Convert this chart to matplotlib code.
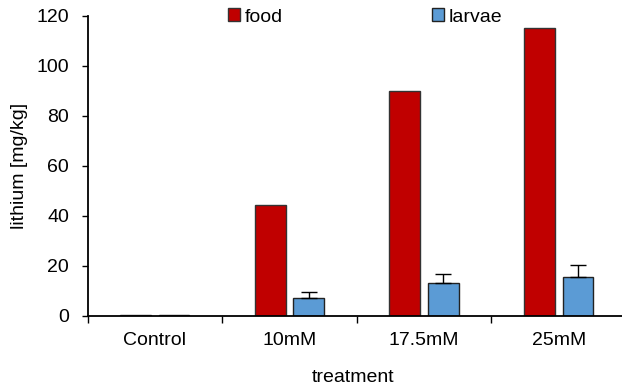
import numpy as np
import matplotlib
matplotlib.use("Agg")
import matplotlib.pyplot as plt
from matplotlib.ticker import FixedLocator, NullFormatter

plt.rcParams['font.family'] = ['Liberation Sans', 'DejaVu Sans']

treatments = ['Control', '10mM', '17.5mM', '25mM']
food = [0.2, 44.4, 90.0, 115.0]
larvae = [0.1, 7.0, 13.2, 15.4]
larvae_err = [0.0, 2.6, 3.5, 4.9]

food_color = '#C00000'
larvae_color = '#5B9BD5'
fs = 14

fig = plt.figure(figsize=(6.22, 3.89), dpi=100)
ax = fig.add_axes([87.5 / 622, 1 - 315.7 / 389, (626 - 87.5) / 622, (315.7 - 15.7) / 389])

x = np.arange(len(treatments))
w = 0.228
off = 0.143
ax.bar(x - off, food, w, color=food_color, edgecolor='#333333', linewidth=1, label='food')
ax.bar(x + off, larvae, w, color=larvae_color, edgecolor='#222222', linewidth=1, label='larvae')
# Excel-style: only the upper half of the error bar
ax.errorbar(x[1:] + off, larvae[1:], yerr=[np.zeros(3), larvae_err[1:]], fmt='none',
            ecolor='black', elinewidth=1, capsize=5.5, capthick=1)

ax.set_xlim(-0.5, 3.5)
ax.set_ylim(0, 120)
ax.set_yticks(range(0, 121, 20))

# ticks at category boundaries, labels at centres
ax.xaxis.set_major_locator(FixedLocator(np.arange(-0.5, 3.6, 1.0)))
ax.xaxis.set_major_formatter(NullFormatter())
ax.xaxis.set_minor_locator(FixedLocator(x))
ax.set_xticklabels(treatments, minor=True)
ax.tick_params(axis='x', which='major', direction='out', length=5, width=1)
ax.tick_params(axis='x', which='minor', length=0, pad=12, labelsize=fs)
ax.tick_params(axis='y', direction='out', length=4.3, width=1, pad=9, labelsize=fs)

for s in ['top', 'right']:
    ax.spines[s].set_visible(False)
for s in ['left', 'bottom']:
    ax.spines[s].set_linewidth(1.3)

fig.text(20 / 622, 1 - 166 / 389, 'lithium [mg/kg]', rotation=90, ha='center', va='center', fontsize=fs)
fig.text(353 / 622, 1 - 378 / 389, 'treatment', ha='center', va='center', fontsize=fs)

ax.legend(loc='center left', bbox_to_anchor=(228 / 622, 1 - 17 / 389), bbox_transform=fig.transFigure,
          ncol=2, frameon=False, fontsize=fs, handlelength=0.6, handleheight=0.6,
          handletextpad=0.25, columnspacing=7.7, borderpad=0, borderaxespad=0)

fig.savefig('out.png', dpi=100)
